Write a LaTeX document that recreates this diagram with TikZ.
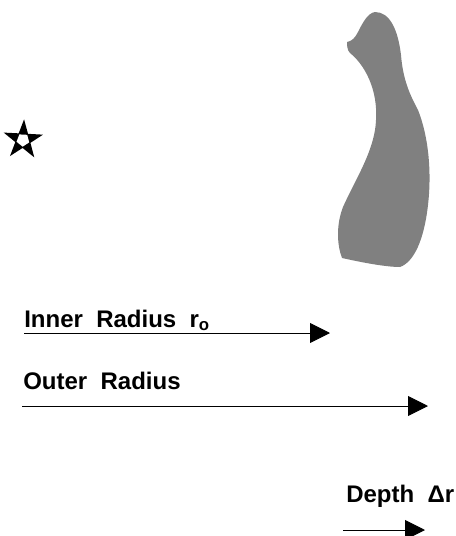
\documentclass[tikz,border=0pt]{standalone}
\usepackage{fontspec}
\setmainfont{Liberation Sans}
\usetikzlibrary{arrows.meta,shapes.geometric}
\definecolor{wallgray}{HTML}{808080}
\tikzset{
  lbl/.style   ={anchor=base west, inner sep=0pt, font=\fontsize{18}{21}\selectfont\bfseries},
  rarr/.style  ={-{Triangle[length=15pt,width=15pt]}, line width=0.7pt, black},
  wall/.style  ={fill=wallgray, draw=none},
}

\begin{document}
\begin{tikzpicture}[x=0.75pt, y=-0.75pt]
\useasboundingbox (0,0) rectangle (456,536);

% source point
\node[star, star points=5, star point ratio=2.6, minimum size=31pt, inner sep=0pt,
      fill=black, rotate=-3] (src) at (23,140) {};
\node[regular polygon, regular polygon sides=5, minimum size=10pt, inner sep=0pt,
      fill=white, rotate=177] (srcc) at (src.center) {};

% target body
\path[wall] (375,12) .. controls (390,12) and (398,30) .. (401,55)
  .. controls (403,80) and (410,95) .. (418,110)
  .. controls (428,135) and (432,170) .. (428,205)
  .. controls (424,240) and (414,262) .. (400,267)
  .. controls (385,267) and (360,262) .. (342,258)
  .. controls (337,245) and (336,225) .. (343,207)
  .. controls (355,180) and (375,150) .. (376,120)
  .. controls (378,90) and (365,65) .. (350,53)
  .. controls (347,50) and (347,45) .. (347,42)
  .. controls (352,41) and (355,38) .. (358,32)
  .. controls (363,22) and (368,13) .. (375,12) -- cycle;

% labels
\node[lbl] (inner) at (24,327) {Inner\ \ Radius\ \ r\textsubscript{o}};
\node[lbl] (outer) at (23,389) {Outer\ \ Radius};
\node[lbl] (depth) at (346,502) {Depth\ \ Δr};

% arrows
\coordinate (in0) at (24,333);
\coordinate (in1) at (330,333);
\coordinate (out0) at (22,406);
\coordinate (out1) at (428,406);
\coordinate (dp0) at (343,530);
\coordinate (dp1) at (425,530);
\draw[rarr] (in0) -- (in1);
\draw[rarr] (out0) -- (out1);
\draw[rarr] (dp0) -- (dp1);

\end{tikzpicture}
\end{document}
